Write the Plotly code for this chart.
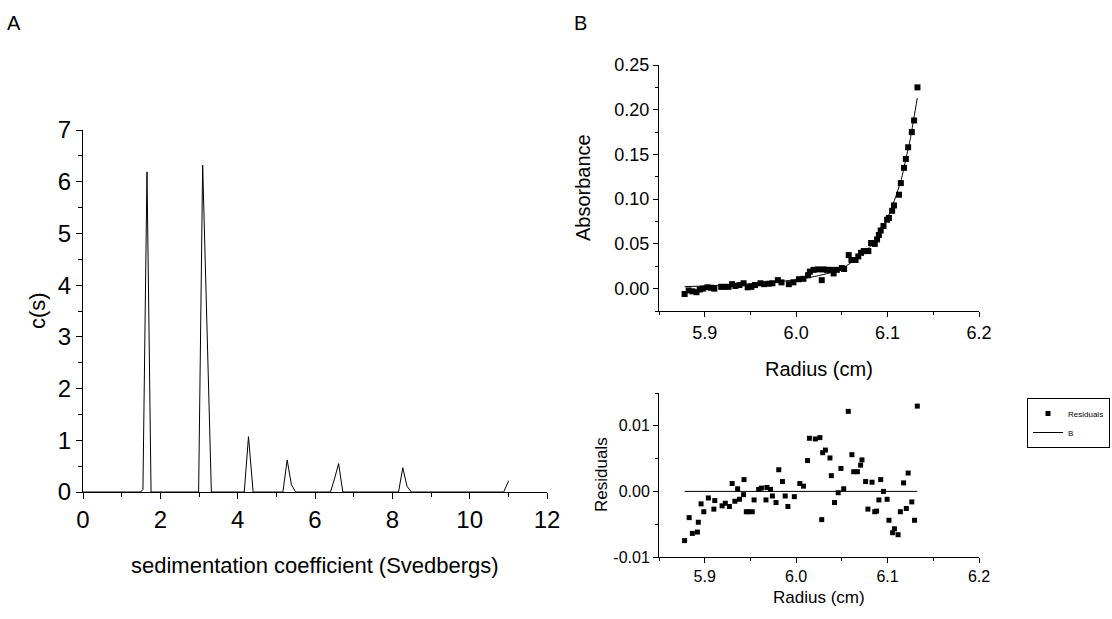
import plotly.graph_objects as go

W, H = 1112, 619
FONT = "Arial, Liberation Sans, sans-serif"

# ---------------- Panel A: c(s) distribution ----------------
sed_s = [0.0, 1.49, 1.55, 1.655, 1.76, 2.99, 3.095, 3.32, 4.17, 4.28, 4.40,
         5.17, 5.28, 5.39, 5.50, 6.40, 6.51, 6.61, 6.72, 8.16, 8.27, 8.38, 8.49,
         10.88, 11.01]
cs_val = [0.0, 0.0, 0.05, 6.19, 0.0, 0.0, 6.32, 0.0, 0.0, 1.07, 0.0,
          0.0, 0.62, 0.14, 0.0, 0.0, 0.27, 0.55, 0.0, 0.0, 0.47, 0.11, 0.0,
          0.0, 0.22]

# ---------------- Panel B top: absorbance vs radius ----------------
abs_r = [5.878, 5.8825, 5.8865, 5.891, 5.8945, 5.898, 5.903, 5.907, 5.9105, 5.918,
         5.9215, 5.926, 5.930, 5.9335, 5.938, 5.9425, 5.947, 5.951, 5.955, 5.961,
         5.965, 5.970, 5.974, 5.980, 5.984, 5.992, 5.997, 6.003, 6.008, 6.013,
         6.015, 6.019, 6.024, 6.028, 6.030, 6.0335, 6.038, 6.041, 6.0445, 6.050,
         6.0525, 6.0575, 6.0605, 6.065, 6.068, 6.071, 6.074, 6.079, 6.082, 6.086,
         6.0885, 6.0905, 6.0925, 6.0955, 6.0995, 6.1015, 6.105, 6.107, 6.1125, 6.1145,
         6.118, 6.120, 6.1225, 6.1265, 6.129, 6.1327]
abs_val = [-0.006, -0.002, -0.003, -0.004, -0.001, 0.000, 0.0015, 0.001, 0.000, 0.002,
           0.002, 0.002, 0.005, 0.003, 0.004, 0.006, 0.0015, 0.002, 0.004, 0.006,
           0.005, 0.0055, 0.006, 0.0095, 0.007, 0.005, 0.007, 0.0105, 0.011, 0.015,
           0.019, 0.021, 0.0215, 0.0095, 0.0215, 0.021, 0.021, 0.017, 0.021, 0.023,
           0.022, 0.0375, 0.032, 0.032, 0.036, 0.040, 0.042, 0.042, 0.051, 0.050,
           0.055, 0.060, 0.065, 0.070, 0.077, 0.079, 0.087, 0.093, 0.105, 0.118,
           0.135, 0.145, 0.158, 0.175, 0.188, 0.225]

fit_r = [5.878, 5.90, 5.92, 5.94, 5.96, 5.98, 6.00, 6.02, 6.04, 6.05, 6.06, 6.07,
         6.08, 6.09, 6.10, 6.105, 6.11, 6.115, 6.12, 6.125, 6.129, 6.1325]
fit_val = [0.0022, 0.0030, 0.0040, 0.0050, 0.0062, 0.0078, 0.0100, 0.0135, 0.0185,
           0.0225, 0.0290, 0.0370, 0.0460, 0.0590, 0.0790, 0.0920, 0.1060, 0.1220,
           0.1450, 0.1680, 0.1920, 0.2130]

# ---------------- Panel B bottom: residuals ----------------
res_r = [5.878, 5.883, 5.8865, 5.892, 5.893, 5.896, 5.899, 5.904, 5.910, 5.911,
         5.919, 5.9225, 5.927, 5.930, 5.933, 5.936, 5.938, 5.9425, 5.943, 5.9455,
         5.948, 5.952, 5.954, 5.959, 5.962, 5.967, 5.968, 5.972, 5.974, 5.978,
         5.981, 5.985, 5.988, 5.991, 5.998, 6.004, 6.008, 6.0125, 6.0145, 6.021,
         6.026, 6.028, 6.029, 6.032, 6.037, 6.0385, 6.042, 6.046, 6.049, 6.052,
         6.057, 6.061, 6.063, 6.067, 6.0705, 6.072, 6.076, 6.0785, 6.083, 6.086,
         6.088, 6.0905, 6.0925, 6.0955, 6.0995, 6.1015, 6.1055, 6.1075, 6.1115, 6.114,
         6.1175, 6.1205, 6.1225, 6.1265, 6.1295, 6.1325]
res_val = [-0.0075, -0.0040, -0.0064, -0.0062, -0.0047, -0.0019, -0.0031, -0.0010, -0.0027, -0.0014,
           -0.0022, -0.0018, -0.0023, 0.0012, -0.0015, 0.0004, -0.0012, -0.0005, 0.0018, -0.0031,
           -0.0031, -0.0031, -0.0013, 0.0003, 0.0005, -0.0013, 0.0006, 0.0003, -0.0007, -0.0017,
           0.0033, 0.0015, -0.0007, -0.0023, -0.0008, 0.0012, 0.0008, 0.0047, 0.0081, 0.0080,
           0.0082, -0.0043, 0.0059, 0.0063, 0.0051, 0.0024, -0.0017, -0.0002, 0.0035, 0.0004,
           0.0122, 0.0056, 0.0030, 0.0030, 0.0040, 0.0048, 0.0015, -0.0027, 0.0014, -0.0031,
           -0.0030, -0.0013, 0.0018, 0.0000, -0.0012, -0.0044, -0.0063, -0.0057, -0.0066, -0.0031,
           0.0013, -0.0026, 0.0028, -0.0016, -0.0044, 0.0130]

zero_r = [5.878, 6.1325]
zero_val = [0.0, 0.0]

# tick labels
a_xticks = [0, 2, 4, 6, 8, 10, 12]
a_yticks = [0, 1, 2, 3, 4, 5, 6, 7]
b_xticks = [5.9, 6.0, 6.1, 6.2]
b_xlabels = ["5.9", "6.0", "6.1", "6.2"]
b_yticks = [0.00, 0.05, 0.10, 0.15, 0.20, 0.25]
b_ylabels = ["0.00", "0.05", "0.10", "0.15", "0.20", "0.25"]
r_yticks = [-0.01, 0.0, 0.01]
r_ylabels = ["-0.01", "0.00", "0.01"]


def px_x(p):
    return p / W


def px_y(p):
    return 1 - p / H


fig = go.Figure()

fig.add_trace(go.Scatter(x=sed_s, y=cs_val, mode="lines",
                         line=dict(color="black", width=1),
                         xaxis="x", yaxis="y", showlegend=False))
fig.add_trace(go.Scatter(x=abs_r, y=abs_val, mode="markers",
                         marker=dict(symbol="square", size=6, color="black"),
                         xaxis="x2", yaxis="y2", showlegend=False))
fig.add_trace(go.Scatter(x=fit_r, y=fit_val, mode="lines",
                         line=dict(color="black", width=1, shape="spline", smoothing=0.6),
                         xaxis="x2", yaxis="y2", showlegend=False))
fig.add_trace(go.Scatter(x=res_r, y=res_val, mode="markers", name="Residuals",
                         marker=dict(symbol="square", size=5, color="black"),
                         xaxis="x3", yaxis="y3", showlegend=True))
fig.add_trace(go.Scatter(x=zero_r, y=zero_val, mode="lines", name="B",
                         line=dict(color="black", width=1),
                         xaxis="x3", yaxis="y3", showlegend=True))

common = dict(showline=True, linecolor="black", linewidth=1, showgrid=False,
              zeroline=False, ticks="outside", tickcolor="black", tickwidth=1,
              mirror=False, color="black", automargin=False)

fig.update_layout(
    width=W, height=H,
    autosize=False,
    margin=dict(l=0, r=0, t=0, b=0, pad=0, autoexpand=False),
    paper_bgcolor="white", plot_bgcolor="white",
    font=dict(family=FONT, color="black"),
    xaxis=dict(common, domain=[px_x(83), px_x(547)], range=[0, 12],
               tickvals=a_xticks, ticklen=6, tickfont=dict(size=24),
               minor=dict(ticks="outside", dtick=1, ticklen=4, tickcolor="black"),
               anchor="y"),
    yaxis=dict(common, domain=[px_y(492), px_y(130)], range=[0, 7],
               tickvals=a_yticks, ticklen=6, tickfont=dict(size=24),
               minor=dict(ticks="outside", dtick=0.5, ticklen=4, tickcolor="black"),
               anchor="x"),
    xaxis2=dict(common, domain=[px_x(659), px_x(979)], range=[5.85, 6.2],
                tickvals=b_xticks, ticktext=b_xlabels, ticklen=5, tickfont=dict(size=18),
                minor=dict(ticks="outside", dtick=0.05, tick0=5.85, ticklen=3, tickcolor="black"),
                anchor="y2"),
    yaxis2=dict(common, domain=[px_y(311), px_y(65)], range=[-0.025, 0.25],
                tickvals=b_yticks, ticktext=b_ylabels, ticklen=5, tickfont=dict(size=18),
                minor=dict(ticks="outside", dtick=0.025, tick0=0, ticklen=3, tickcolor="black"),
                anchor="x2"),
    xaxis3=dict(common, domain=[px_x(659), px_x(979)], range=[5.85, 6.2],
                tickvals=b_xticks, ticktext=b_xlabels, ticklen=5, tickfont=dict(size=16),
                minor=dict(ticks="outside", dtick=0.05, tick0=5.85, ticklen=3, tickcolor="black"),
                anchor="y3"),
    yaxis3=dict(common, domain=[px_y(557), px_y(393)], range=[-0.01, 0.015],
                tickvals=r_yticks, ticktext=r_ylabels, ticklen=5, tickfont=dict(size=16),
                minor=dict(ticks="outside", dtick=0.005, tick0=0, ticklen=3, tickcolor="black"),
                anchor="x3"),
    legend=dict(x=px_x(1110), y=px_y(423), xanchor="right", yanchor="middle",
                bgcolor="white", bordercolor="black", borderwidth=1,
                font=dict(size=8, family=FONT), itemwidth=30, tracegroupgap=0),
    showlegend=True,
)

annots = [
    dict(text="A", x=px_x(14), y=px_y(23), size=20),
    dict(text="B", x=px_x(580), y=px_y(23), size=20),
    dict(text="sedimentation coefficient (Svedbergs)", x=px_x(315), y=px_y(565), size=22),
    dict(text="c(s)", x=px_x(37), y=px_y(311), size=22, angle=-90),
    dict(text="Absorbance", x=px_x(583), y=px_y(188), size=20, angle=-90),
    dict(text="Radius (cm)", x=px_x(819), y=px_y(369), size=20),
    dict(text="Residuals", x=px_x(601), y=px_y(475), size=17, angle=-90),
    dict(text="Radius (cm)", x=px_x(819), y=px_y(597), size=17),
]
for a in annots:
    fig.add_annotation(text=a["text"], x=a["x"], y=a["y"], xref="paper", yref="paper",
                       xanchor="center", yanchor="middle", showarrow=False,
                       textangle=a.get("angle", 0),
                       font=dict(size=a["size"], family=FONT, color="black"))

fig.write_html("out.html",
               config={"displayModeBar": False},
               post_script="document.body.style.margin='0';document.body.style.overflow='hidden';")
